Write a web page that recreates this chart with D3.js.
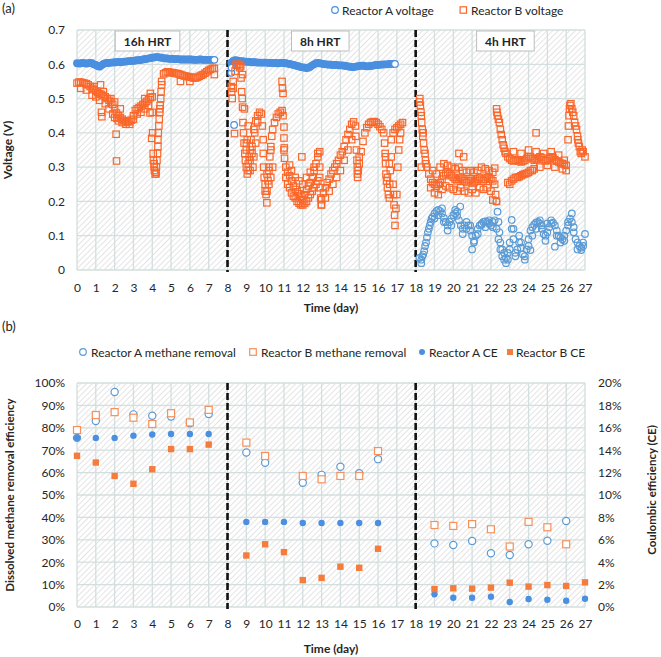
<!DOCTYPE html>
<html>
<head>
<meta charset="utf-8">
<script src="https://cdn.jsdelivr.net/npm/d3@7"></script>
<style>
  body { margin: 0; background: #fff; }
  text { font-family: Lato, "Open Sans", sans-serif; fill: #262626; }
</style>
</head>
<body>
<div id="chart"></div>
<script>
// ---------------- Data ----------------

// Axis ticks
var dayTicks = [0, 1, 2, 3, 4, 5, 6, 7, 8, 9, 10, 11, 12, 13, 14, 15, 16, 17, 18, 19, 20, 21, 22, 23, 24, 25, 26, 27];
var voltTicks = [0, 0.1, 0.2, 0.3, 0.4, 0.5, 0.6, 0.7];
var effTicks = [0, 10, 20, 30, 40, 50, 60, 70, 80, 90, 100];
var ceTicks = [0, 2, 4, 6, 8, 10, 12, 14, 16, 18, 20];

// HRT phases
var phaseBreaks = [8, 18];
var hrtLabels = ["16h HRT", "8h HRT", "4h HRT"];

// Voltage logger: one reading kept every 0.1 day
var logStep = 0.1;

// Reactor A voltage (V)
var aVolt16Start = 0;
var aVolt16 = [0.603, 0.602, 0.603, 0.604, 0.603, 0.602, 0.603, 0.604, 0.603, 0.600,
  0.598, 0.595, 0.593, 0.597, 0.601, 0.603, 0.604, 0.604, 0.605, 0.605,
  0.606, 0.606, 0.607, 0.606, 0.607, 0.608, 0.608, 0.609, 0.609, 0.610,
  0.610, 0.611, 0.612, 0.612, 0.613, 0.614, 0.615, 0.616, 0.617, 0.618,
  0.619, 0.620, 0.621, 0.621, 0.620, 0.619, 0.618, 0.617, 0.617, 0.616,
  0.616, 0.616, 0.615, 0.615, 0.615, 0.614, 0.614, 0.614, 0.614, 0.614,
  0.614, 0.614, 0.613, 0.613, 0.613, 0.614, 0.614, 0.613, 0.613, 0.613,
  0.613, 0.613, 0.613, 0.613];
var aVolt8Start = 8.2;
var aVolt8 = [0.605, 0.610, 0.612, 0.611, 0.610, 0.609, 0.609, 0.608,
  0.608, 0.607, 0.607, 0.606, 0.606, 0.606, 0.605, 0.605, 0.605, 0.605,
  0.605, 0.605, 0.604, 0.604, 0.604, 0.604, 0.603, 0.603, 0.604, 0.604,
  0.604, 0.603, 0.602, 0.601, 0.600, 0.598, 0.597, 0.595, 0.594, 0.592,
  0.591, 0.590, 0.589, 0.590, 0.593, 0.597, 0.600, 0.603, 0.604, 0.603,
  0.602, 0.601, 0.600, 0.600, 0.599, 0.599, 0.598, 0.598, 0.598, 0.597,
  0.597, 0.597, 0.596, 0.595, 0.594, 0.593, 0.592, 0.592, 0.593, 0.594,
  0.595, 0.596, 0.596, 0.595, 0.594, 0.594, 0.595, 0.596, 0.597, 0.598,
  0.598, 0.599, 0.599, 0.600, 0.600, 0.600, 0.601, 0.601, 0.601, 0.601];
var aVolt4Start = 18.2;
var aVolt4 = [0.035, 0.030, 0.045, 0.070, 0.095, 0.120, 0.140, 0.155,
  0.165, 0.172, 0.175, 0.172, 0.165, 0.152, 0.140, 0.130, 0.140, 0.150,
  0.160, 0.165, 0.158, 0.145, 0.130, 0.120, 0.130, 0.140, 0.130, 0.115,
  0.100, 0.085, 0.100, 0.120, 0.130, 0.135, 0.140, 0.142, 0.140, 0.135,
  0.130, 0.140, 0.145, 0.120, 0.090, 0.060, 0.040, 0.030, 0.035, 0.050,
  0.080, 0.120, 0.090, 0.050, 0.060, 0.080, 0.065, 0.045, 0.040, 0.060,
  0.090, 0.115, 0.125, 0.132, 0.138, 0.140, 0.135, 0.120, 0.105, 0.100,
  0.110, 0.125, 0.135, 0.138, 0.130, 0.115, 0.100, 0.095, 0.090, 0.100,
  0.115, 0.130, 0.150, 0.140, 0.110, 0.090, 0.080, 0.070, 0.065, 0.080,
  0.105];
// extra scattered readings [day, V]
var aVoltExtra8 = [[8.20, 0.575], [8.22, 0.590], [8.35, 0.423]];
var aVoltExtra4 = [[18.30, 0.020], [18.35, 0.040], [18.45, 0.055], [18.55, 0.080], [18.65, 0.110], [18.75, 0.130],
  [18.85, 0.150], [19.00, 0.150], [19.20, 0.160], [19.40, 0.180], [19.50, 0.140], [19.70, 0.115],
  [19.90, 0.130], [20.10, 0.175], [20.20, 0.170], [20.37, 0.185], [20.50, 0.105], [20.70, 0.120],
  [20.90, 0.130], [21.00, 0.060], [21.10, 0.080], [21.30, 0.105], [21.50, 0.131], [21.70, 0.125],
  [21.90, 0.145], [22.10, 0.125], [22.29, 0.200], [22.35, 0.170], [22.40, 0.140], [22.45, 0.110],
  [22.50, 0.080], [22.60, 0.060], [22.70, 0.050], [22.80, 0.020], [22.90, 0.030], [23.00, 0.060],
  [23.10, 0.146], [23.20, 0.120], [23.30, 0.040], [23.50, 0.100], [23.60, 0.080], [23.80, 0.030],
  [24.00, 0.070], [24.10, 0.058], [24.20, 0.100], [24.40, 0.120], [24.60, 0.145], [24.70, 0.130],
  [24.90, 0.085], [25.00, 0.136], [25.20, 0.145], [25.40, 0.068], [25.50, 0.100], [25.70, 0.080],
  [25.90, 0.085], [26.10, 0.140], [26.30, 0.165], [26.40, 0.125], [26.60, 0.060], [26.80, 0.058],
  [26.90, 0.070]];

// Reactor B voltage (V)
var bVolt16Start = 0;
var bVolt16 = [0.545, 0.548, 0.548, 0.546, 0.545, 0.543, 0.540, 0.535, 0.530, 0.526,
  0.522, 0.518, 0.514, 0.512, 0.508, 0.505, 0.500, 0.495, 0.490, 0.483,
  0.470, 0.458, 0.450, 0.445, 0.440, 0.436, 0.433, 0.432, 0.433, 0.437,
  0.450, 0.465, 0.470, 0.474, 0.478, 0.483, 0.487, 0.492, 0.497, 0.503,
  0.505, 0.300, 0.280, 0.360, 0.470, 0.550, 0.572, 0.575, 0.578, 0.577,
  0.576, 0.575, 0.574, 0.573, 0.572, 0.570, 0.568, 0.566, 0.565, 0.564,
  0.563, 0.562, 0.560, 0.560, 0.562, 0.565, 0.568, 0.570, 0.574, 0.578,
  0.582, 0.585, 0.588, 0.588];
var bVolt8Start = 8.2;
var bVolt8 = [0.535, 0.550, 0.580, 0.597, 0.600, 0.595, 0.570, 0.470,
  0.370, 0.310, 0.290, 0.360, 0.410, 0.435, 0.450, 0.460, 0.455, 0.380,
  0.250, 0.230, 0.290, 0.360, 0.410, 0.430, 0.445, 0.455, 0.460, 0.465,
  0.350, 0.300, 0.285, 0.275, 0.260, 0.245, 0.235, 0.228, 0.222, 0.215,
  0.205, 0.220, 0.235, 0.245, 0.255, 0.270, 0.290, 0.310, 0.330, 0.300,
  0.205, 0.225, 0.240, 0.255, 0.265, 0.280, 0.290, 0.300, 0.310, 0.320,
  0.335, 0.345, 0.360, 0.380, 0.395, 0.410, 0.425, 0.432, 0.420, 0.300,
  0.310, 0.345, 0.375, 0.400, 0.415, 0.425, 0.430, 0.432, 0.433, 0.430,
  0.425, 0.418, 0.410, 0.400, 0.330, 0.270, 0.310, 0.380, 0.400, 0.410,
  0.415, 0.420, 0.425, 0.430];
var bVolt4Start = 18.2;
var bVolt4 = [0.490, 0.450, 0.400, 0.340, 0.300, 0.280, 0.265, 0.255,
  0.250, 0.245, 0.250, 0.255, 0.265, 0.275, 0.280, 0.285, 0.280, 0.275,
  0.270, 0.265, 0.260, 0.265, 0.270, 0.265, 0.260, 0.255, 0.260, 0.265,
  0.260, 0.255, 0.260, 0.265, 0.270, 0.265, 0.260, 0.265, 0.270, 0.270,
  0.265, 0.260, 0.250, 0.470, 0.440, 0.410, 0.380, 0.355, 0.340, 0.330,
  0.325, 0.320, 0.318, 0.320, 0.322, 0.318, 0.315, 0.318, 0.320, 0.325,
  0.330, 0.330, 0.325, 0.320, 0.322, 0.325, 0.330, 0.328, 0.322, 0.318,
  0.320, 0.325, 0.330, 0.328, 0.322, 0.318, 0.315, 0.312, 0.310, 0.308,
  0.305, 0.380, 0.480, 0.470, 0.450, 0.420, 0.390, 0.360, 0.340, 0.345,
  0.330];
// extra scattered readings [day, V]
var bVoltExtra = [
  [4.00, 0.46], [4.02, 0.40], [4.05, 0.34], [4.06, 0.32], [4.10, 0.31], [4.12, 0.29], [4.15, 0.28],
  [4.20, 0.285], [4.22, 0.30], [4.25, 0.32], [4.28, 0.34], [4.30, 0.38], [4.32, 0.40], [4.35, 0.42],
  [4.37, 0.44], [4.40, 0.46], [4.42, 0.48], [4.45, 0.50], [4.47, 0.52], [4.50, 0.54],
  [1.25, 0.54], [1.30, 0.46], [1.32, 0.447], [2.08, 0.396], [2.10, 0.318], [2.12, 0.442],
  [3.88, 0.458], [3.97, 0.384], [5.50, 0.55], [6.00, 0.55], [7.30, 0.57],
  [0.2, 0.53], [0.5, 0.525], [0.8, 0.51], [1.0, 0.505], [1.2, 0.495], [1.5, 0.485], [1.7, 0.47],
  [1.9, 0.455], [2.0, 0.445], [2.2, 0.435], [2.4, 0.43], [2.6, 0.425], [2.8, 0.425], [3.0, 0.44],
  [3.2, 0.455], [3.4, 0.46], [3.6, 0.47], [3.8, 0.48],
  [0.9, 0.535], [1.4, 0.52], [1.8, 0.50], [2.0, 0.49], [2.3, 0.47], [3.6, 0.50], [3.9, 0.515],
  [8.22, 0.52], [8.25, 0.50], [8.30, 0.53], [8.37, 0.398], [8.45, 0.60], [8.65, 0.59], [8.72, 0.56],
  [8.75, 0.52], [8.78, 0.50], [8.80, 0.475], [8.82, 0.43], [8.85, 0.40], [8.88, 0.37], [8.92, 0.34],
  [8.95, 0.32], [9.00, 0.30], [9.05, 0.28], [9.10, 0.29], [9.15, 0.33], [9.20, 0.35], [9.25, 0.38],
  [9.00, 0.35], [9.05, 0.38], [9.10, 0.42], [9.20, 0.32], [9.30, 0.34], [9.35, 0.30], [9.40, 0.33],
  [9.45, 0.40], [9.50, 0.37], [9.60, 0.43],
  [9.85, 0.42], [9.90, 0.34], [9.92, 0.30], [9.95, 0.27], [10.00, 0.23], [10.05, 0.22], [10.09, 0.196],
  [10.15, 0.26], [10.20, 0.30], [10.25, 0.33], [10.30, 0.35], [10.35, 0.39], [10.10, 0.28], [10.20, 0.25],
  [10.30, 0.27], [10.40, 0.30],
  [10.90, 0.55], [10.92, 0.53], [10.95, 0.515], [10.95, 0.45], [11.00, 0.417], [11.00, 0.385],
  [11.02, 0.356], [11.03, 0.326],
  [11.1, 0.27], [11.2, 0.25], [11.3, 0.24], [11.4, 0.225], [11.5, 0.215], [11.6, 0.21], [11.7, 0.20],
  [11.8, 0.195], [11.9, 0.19], [12.0, 0.19], [12.1, 0.195], [12.2, 0.20], [12.3, 0.21], [12.4, 0.22],
  [12.5, 0.23], [12.6, 0.24], [12.7, 0.25], [12.8, 0.26],
  [11.4, 0.29], [11.6, 0.27], [11.8, 0.26], [12.0, 0.25], [12.2, 0.27], [12.4, 0.285], [12.6, 0.30],
  [12.8, 0.34], [12.9, 0.345], [11.95, 0.33], [11.3, 0.306],
  [12.90, 0.27], [12.92, 0.24], [12.95, 0.21], [12.98, 0.19], [13.00, 0.19],
  [13.2, 0.21], [13.4, 0.23], [13.6, 0.25], [13.8, 0.27], [14.0, 0.29], [14.2, 0.32], [14.4, 0.35], [14.6, 0.38],
  [14.82, 0.39], [14.85, 0.35], [14.88, 0.32], [14.90, 0.28], [14.92, 0.27], [14.95, 0.29], [15.00, 0.33],
  [16.35, 0.37], [16.38, 0.34], [16.40, 0.31], [16.42, 0.28], [16.45, 0.26], [16.50, 0.24], [16.55, 0.22],
  [16.60, 0.21], [16.62, 0.25], [16.65, 0.29], [16.70, 0.33], [16.80, 0.25], [16.82, 0.22], [16.85, 0.19],
  [16.88, 0.16], [16.90, 0.13], [16.95, 0.18], [17.00, 0.22], [17.05, 0.30], [17.10, 0.35], [17.15, 0.38],
  [17.20, 0.40],
  [18.22, 0.50], [18.25, 0.48], [18.28, 0.46], [18.32, 0.43], [18.35, 0.41], [18.38, 0.39], [18.42, 0.37],
  [18.45, 0.35], [18.52, 0.32], [18.55, 0.31], [18.30, 0.30],
  [18.9, 0.29], [19.1, 0.28], [19.3, 0.30], [19.5, 0.31], [19.7, 0.305], [19.9, 0.30], [20.1, 0.295],
  [20.3, 0.30], [20.5, 0.29], [20.7, 0.285], [20.9, 0.29], [21.1, 0.285], [21.3, 0.29], [21.5, 0.30],
  [21.7, 0.295], [21.9, 0.29], [22.1, 0.285], [22.2, 0.297],
  [18.8, 0.24], [19.0, 0.225], [19.2, 0.22], [19.4, 0.235], [19.6, 0.245], [19.8, 0.24], [20.0, 0.235],
  [20.2, 0.23], [20.4, 0.24], [20.6, 0.23], [20.8, 0.225], [21.0, 0.235], [21.2, 0.225], [21.4, 0.24],
  [21.6, 0.235], [21.8, 0.24], [22.0, 0.23], [22.25, 0.22], [22.3, 0.20], [22.1, 0.204],
  [20.3, 0.34], [24.4, 0.40], [20.55, 0.33],
  [22.32, 0.46], [22.35, 0.45], [22.45, 0.43], [22.55, 0.395], [22.65, 0.365], [22.75, 0.345],
  [22.9, 0.255], [23.0, 0.25], [23.1, 0.26], [23.2, 0.265], [23.3, 0.27], [23.4, 0.27], [23.5, 0.272],
  [23.6, 0.275], [23.7, 0.278], [23.8, 0.28], [23.9, 0.282], [24.0, 0.285], [24.1, 0.29], [24.2, 0.29],
  [24.3, 0.295],
  [23.2, 0.345], [23.6, 0.34], [24.0, 0.35], [24.4, 0.345], [24.8, 0.34], [25.2, 0.345], [25.6, 0.335],
  [25.9, 0.32],
  [24.6, 0.30], [25.0, 0.305], [25.4, 0.30], [25.8, 0.295], [26.0, 0.29],
  [26.12, 0.42], [26.15, 0.45], [26.18, 0.47], [26.25, 0.485], [26.35, 0.46], [26.45, 0.43], [26.55, 0.41],
  [26.62, 0.38], [26.65, 0.37], [26.75, 0.345], [26.85, 0.35]];

// Dissolved methane removal efficiency (%)
var removalDays = [0, 1, 2, 3, 4, 5, 6, 7, 9, 10, 12, 13, 14, 15, 16, 19, 20, 21, 22, 23, 24, 25, 26];
var removalA = [75.5, 83, 96, 86, 85.4, 85, 82, 86.2, 69, 64.4, 55.5, 59, 62.6, 59.7, 66,
  28.4, 27.7, 29.5, 24, 23.2, 28, 29.6, 38.4];
var removalB = [79, 85.7, 87, 84.5, 81.7, 86.5, 82.4, 88, 73.4, 67.4, 58.5, 57, 58.5, 58.5, 69.6,
  36.6, 36.2, 37, 34.7, 27, 38, 35.6, 28];

// Coulombic efficiency (%)
var ceDays = [0, 1, 2, 3, 4, 5, 6, 7, 9, 10, 11, 12, 13, 14, 15, 16, 19, 20, 21, 22, 23, 24, 25, 26, 27];
var ceA = [15.1, 15.1, 15.1, 15.3, 15.4, 15.45, 15.45, 15.45, 7.6, 7.6, 7.6, 7.5, 7.5, 7.5, 7.5, 7.5,
  1.13, 0.83, 0.83, 0.92, 0.45, 0.71, 0.65, 0.56, 0.74];
var ceB = [13.5, 12.9, 11.7, 11.0, 12.3, 14.1, 14.1, 14.5, 4.6, 5.6, 4.9, 2.4, 2.6, 3.6, 3.5, 5.2,
  1.6, 1.67, 1.64, 1.73, 2.17, 1.82, 1.96, 1.88, 2.2];

// ---------------- Layout ----------------
var width = 661;
var height = 657;
var plotLeft = 77;
var plotRight = 585;

var blueLine = "#4a8fe0";
var blueOpen = "#5b9bd5";
var orangeLine = "#fa672a";
var orangeOpen = "#f4915c";
var orangeFill = "#f47c3c";
var gridColor = "#d3dede";

var svg = d3.select("#chart").append("svg")
  .attr("width", width)
  .attr("height", height);

// Hatched plot background
var pat = svg.append("defs").append("pattern")
  .attr("id", "hatch")
  .attr("width", 4)
  .attr("height", 4)
  .attr("patternUnits", "userSpaceOnUse")
  .attr("patternTransform", "rotate(45)");
pat.append("rect").attr("width", 4).attr("height", 4).attr("fill", "#fff");
pat.append("line")
  .attr("x1", 0).attr("y1", 0).attr("x2", 0).attr("y2", 4)
  .attr("stroke", "#d6d6d6").attr("stroke-width", 1.3);

var x = d3.scaleLinear().domain([0, 27]).range([plotLeft, plotRight]);
var yV = d3.scaleLinear().domain([0, 0.7]).range([270, 30]);
var yEff = d3.scaleLinear().domain([0, 100]).range([607, 383]);
var yCE = d3.scaleLinear().domain([0, 20]).range([607, 383]);

// draws background, gridlines and phase separators for one panel
function drawFrame(yScale, yTickVals) {
  var r = yScale.range();
  var g = svg.append("g");
  g.append("rect")
    .attr("x", plotLeft).attr("y", r[1])
    .attr("width", plotRight - plotLeft).attr("height", r[0] - r[1])
    .attr("fill", "url(#hatch)");
  g.selectAll(".vgrid").data(dayTicks).enter().append("line")
    .attr("x1", function(d) { return x(d); })
    .attr("x2", function(d) { return x(d); })
    .attr("y1", r[1]).attr("y2", r[0])
    .attr("stroke", gridColor).attr("stroke-width", 1.3);
  g.selectAll(".hgrid").data(yTickVals).enter().append("line")
    .attr("x1", plotLeft).attr("x2", plotRight)
    .attr("y1", function(d) { return yScale(d); })
    .attr("y2", function(d) { return yScale(d); })
    .attr("stroke", gridColor).attr("stroke-width", 1.3);
  g.selectAll(".phase").data(phaseBreaks).enter().append("line")
    .attr("x1", function(d) { return x(d); })
    .attr("x2", function(d) { return x(d); })
    .attr("y1", r[1]).attr("y2", r[0] + 2)
    .attr("stroke", "#111").attr("stroke-width", 2.6)
    .attr("stroke-dasharray", "7,3");
  return g;
}

function styleAxis(g) {
  g.select(".domain").remove();
  g.selectAll("text").attr("font-family", "Lato").attr("font-size", 12).attr("fill", "#262626");
}

function toPoints(start, values) {
  return values.map(function(v, i) { return [start + i * logStep, v]; });
}

function openCircles(data, xs, ys, r, color, fill) {
  svg.append("g").selectAll("circle").data(data).enter().append("circle")
    .attr("cx", function(d) { return xs(d[0]); })
    .attr("cy", function(d) { return ys(d[1]); })
    .attr("r", r)
    .attr("fill", fill || "#fff")
    .attr("stroke", color)
    .attr("stroke-width", 1.2);
}

function openSquares(data, xs, ys, s, color, fill) {
  svg.append("g").selectAll("rect").data(data).enter().append("rect")
    .attr("x", function(d) { return xs(d[0]) - s / 2; })
    .attr("y", function(d) { return ys(d[1]) - s / 2; })
    .attr("width", s).attr("height", s)
    .attr("fill", fill || "#fff")
    .attr("stroke", color)
    .attr("stroke-width", 1.2);
}

// ---------------- (a) Voltage ----------------
drawFrame(yV, voltTicks);

svg.append("g")
  .attr("transform", "translate(0,270)")
  .call(d3.axisBottom(x).tickValues(dayTicks).tickSize(0).tickPadding(13).tickFormat(d3.format("d")))
  .call(styleAxis);
svg.append("g")
  .attr("transform", "translate(" + plotLeft + ",0)")
  .call(d3.axisLeft(yV).tickValues(voltTicks).tickSize(0).tickPadding(12)
    .tickFormat(function(d) { return d === 0 ? "0" : d3.format(".1f")(d); }))
  .call(styleAxis);

// HRT boxes
var hrtCenters = [3.75, 12.93, 22.77];
hrtLabels.forEach(function(lbl, i) {
  var g = svg.append("g");
  var t = g.append("text")
    .attr("x", x(hrtCenters[i])).attr("y", 45.5)
    .attr("text-anchor", "middle")
    .attr("font-size", 12).attr("font-weight", "bold")
    .text(lbl);
  var w = t.node().getComputedTextLength() + 17;
  g.insert("rect", "text")
    .attr("x", x(hrtCenters[i]) - w / 2).attr("y", 31)
    .attr("width", w).attr("height", 20)
    .attr("fill", "#fff").attr("stroke", "#bdbdbd").attr("stroke-width", 1);
});

// Reactor A: dense logging at 16h / 8h merges into a solid band, last reading stays open
var a16 = toPoints(aVolt16Start, aVolt16);
var a8 = toPoints(aVolt8Start, aVolt8);
openCircles(a16.slice(0, -1).concat(a8.slice(0, -1)), x, yV, 3.3, blueLine, blueLine);
openCircles(aVoltExtra8.concat([a16[a16.length - 1], a8[a8.length - 1]]), x, yV, 3.3, blueLine, "#fff");
openCircles(aVoltExtra4.concat(toPoints(aVolt4Start, aVolt4)), x, yV, 3.3, blueOpen, "none");

var bPoints = bVoltExtra.concat(toPoints(bVolt16Start, bVolt16), toPoints(bVolt8Start, bVolt8), toPoints(bVolt4Start, bVolt4));
openSquares(bPoints, x, yV, 6.4, orangeLine, "none");

// Legend (a)
svg.append("circle").attr("cx", 335).attr("cy", 10).attr("r", 3.3)
  .attr("fill", "#fff").attr("stroke", blueLine).attr("stroke-width", 1.2);
svg.append("text").attr("x", 342).attr("y", 14.5).attr("font-size", 12).text("Reactor A voltage");
svg.append("rect").attr("x", 463.3 - 3.2).attr("y", 10 - 3.2).attr("width", 6.4).attr("height", 6.4)
  .attr("fill", "#fff").attr("stroke", orangeLine).attr("stroke-width", 1.2);
svg.append("text").attr("x", 471).attr("y", 14.5).attr("font-size", 12).text("Reactor B voltage");

svg.append("text").attr("x", 2).attr("y", 12.5).attr("font-size", 13).text("(a)");
svg.append("text")
  .attr("transform", "translate(12,150)rotate(-90)")
  .attr("text-anchor", "middle").attr("font-size", 12).attr("font-weight", "bold")
  .text("Voltage (V)");
svg.append("text")
  .attr("x", (plotLeft + plotRight) / 2).attr("y", 312)
  .attr("text-anchor", "middle").attr("font-size", 12).attr("font-weight", "bold")
  .text("Time (day)");

// ---------------- (b) Efficiencies ----------------
drawFrame(yEff, effTicks);

svg.append("g")
  .attr("transform", "translate(0,607)")
  .call(d3.axisBottom(x).tickValues(dayTicks).tickSize(0).tickPadding(12.5).tickFormat(d3.format("d")))
  .call(styleAxis);
svg.append("g")
  .attr("transform", "translate(" + plotLeft + ",0)")
  .call(d3.axisLeft(yEff).tickValues(effTicks).tickSize(0).tickPadding(12)
    .tickFormat(function(d) { return d + "%"; }))
  .call(styleAxis);
svg.append("g")
  .attr("transform", "translate(" + plotRight + ",0)")
  .call(d3.axisRight(yCE).tickValues(ceTicks).tickSize(0).tickPadding(13)
    .tickFormat(function(d) { return d + "%"; }))
  .call(styleAxis);

var remA = removalDays.map(function(d, i) { return [d, removalA[i]]; });
var remB = removalDays.map(function(d, i) { return [d, removalB[i]]; });
openCircles(remA, x, yEff, 3.6, blueOpen);
openSquares(remB, x, yEff, 7, orangeOpen);

svg.append("g").selectAll("circle").data(ceDays).enter().append("circle")
  .attr("cx", function(d) { return x(d); })
  .attr("cy", function(d, i) { return yCE(ceA[i]); })
  .attr("r", 3.2)
  .attr("fill", blueLine);
svg.append("g").selectAll("rect").data(ceDays).enter().append("rect")
  .attr("x", function(d) { return x(d) - 3.2; })
  .attr("y", function(d, i) { return yCE(ceB[i]) - 3.2; })
  .attr("width", 6.4).attr("height", 6.4)
  .attr("fill", orangeFill);

// Legend (b)
svg.append("circle").attr("cx", 83).attr("cy", 352).attr("r", 3.3)
  .attr("fill", "#fff").attr("stroke", blueOpen).attr("stroke-width", 1.2);
svg.append("text").attr("x", 91).attr("y", 356.5).attr("font-size", 12).text("Reactor A methane removal");
svg.append("rect").attr("x", 253 - 3.3).attr("y", 352 - 3.3).attr("width", 6.6).attr("height", 6.6)
  .attr("fill", "#fff").attr("stroke", orangeOpen).attr("stroke-width", 1.2);
svg.append("text").attr("x", 261).attr("y", 356.5).attr("font-size", 12).text("Reactor B methane removal");
svg.append("circle").attr("cx", 422).attr("cy", 352).attr("r", 3)
  .attr("fill", blueLine);
svg.append("text").attr("x", 429).attr("y", 356.5).attr("font-size", 12).text("Reactor A CE");
svg.append("rect").attr("x", 510 - 3).attr("y", 352 - 3).attr("width", 6).attr("height", 6)
  .attr("fill", orangeFill);
svg.append("text").attr("x", 516).attr("y", 356.5).attr("font-size", 12).text("Reactor B CE");

svg.append("text").attr("x", 2).attr("y", 331).attr("font-size", 13).text("(b)");
svg.append("text")
  .attr("transform", "translate(13.5,495)rotate(-90)")
  .attr("text-anchor", "middle").attr("font-size", 11.5).attr("font-weight", "bold")
  .text("Dissolved methane removal efficiency");
svg.append("text")
  .attr("transform", "translate(656,490)rotate(-90)")
  .attr("text-anchor", "middle").attr("font-size", 11.5).attr("font-weight", "bold")
  .text("Coulombic efficiency (CE)");
svg.append("text")
  .attr("x", (plotLeft + plotRight) / 2).attr("y", 653)
  .attr("text-anchor", "middle").attr("font-size", 12).attr("font-weight", "bold")
  .text("Time (day)");
</script>
</body>
</html>
